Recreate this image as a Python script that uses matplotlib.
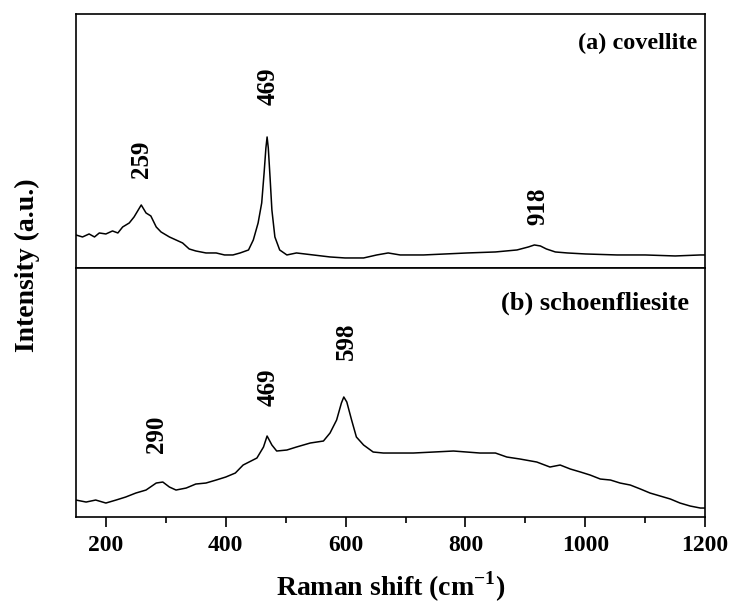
import matplotlib
matplotlib.use("Agg")
import matplotlib.pyplot as plt

plt.rcParams['font.family'] = ['Liberation Serif', 'DejaVu Serif']
plt.rcParams['font.weight'] = 'bold'
plt.rcParams['mathtext.fontset'] = 'custom'
plt.rcParams['mathtext.rm'] = 'Liberation Serif:bold'
plt.rcParams['mathtext.bf'] = 'Liberation Serif:bold'

# (a) covellite, intensidad en unidades arbitrarias
cov_x = [150, 161, 172, 181, 189, 200, 211, 220, 228, 239, 247, 253, 259, 261, 267, 275,
         284, 292, 306, 317, 328, 339, 350, 367, 384, 398, 412, 424, 438, 446, 454, 460,
         464, 467, 469, 471, 474, 477, 482, 490, 502, 518, 546, 574, 599, 630, 652, 671,
         691, 730, 803, 850, 886, 905, 915, 925, 935, 950, 970, 1000, 1053, 1100, 1150,
         1192, 1200]
cov_y = [33, 31, 34, 31, 35, 34, 37, 35, 41, 45, 51, 57, 63, 61, 55, 52,
         41, 36, 31, 28, 25, 19, 17, 15, 15, 13, 13, 15, 18, 28, 45, 65,
         95, 120, 131, 120, 90, 58, 31, 18, 13, 15, 13, 11, 10, 10, 13, 15,
         13, 13, 15, 16, 18, 21, 23, 22, 19, 16, 15, 14, 13, 13, 12,
         13, 13]

# (b) schoenfliesite
sch_x = [150, 167, 183, 200, 217, 233, 250, 267, 284, 295, 306, 317, 334, 350, 367, 384,
         400, 416, 429, 452, 463, 469, 477, 485, 502, 518, 541, 563, 574, 585, 593, 597,
         602, 610, 618, 630, 646, 663, 680, 713, 747, 780, 802, 824, 850, 869, 891, 919,
         941, 958, 975, 992, 1008, 1025, 1042, 1058, 1075, 1092, 1108, 1125, 1142, 1158,
         1175, 1192, 1200]
sch_y = [17, 15, 17, 14, 17, 20, 24, 27, 34, 35, 30, 27, 29, 33, 34, 37,
         40, 44, 52, 59, 70, 81, 72, 66, 67, 70, 74, 76, 84, 97, 114, 120,
         115, 97, 80, 72, 65, 64, 64, 64, 65, 66, 65, 64, 64, 60, 58, 55,
         50, 52, 48, 45, 42, 38, 37, 34, 32, 28, 24, 21, 18, 14,
         11, 9, 9]

picos_a = [(259, 109, '259'), (470, 182, '469'), (921, 62, '918')]
picos_b = [(285, 83, '290'), (470, 130, '469'), (601, 176, '598')]

fig = plt.figure(figsize=(7.3, 6.09), dpi=100)
ax1 = fig.add_axes([0.104, 0.560, 0.862, 0.417])
ax2 = fig.add_axes([0.104, 0.151, 0.862, 0.409])

ax1.plot(cov_x, cov_y, color='black', lw=1.1)
ax2.plot(sch_x, sch_y, color='black', lw=1.1)

for ax in (ax1, ax2):
    ax.set_xlim(150, 1200)
    ax.set_yticks([])
    for s in ax.spines.values():
        s.set_linewidth(1.2)

ax1.set_ylim(0, 254)
ax2.set_ylim(0, 249)
ax1.set_xticks([])

ax2.set_xticks([200, 400, 600, 800, 1000, 1200])
ax2.set_xticks([300, 500, 700, 900, 1100], minor=True)
ax2.tick_params(axis='x', which='major', direction='out', length=7, width=1.2, labelsize=17, pad=6)
ax2.tick_params(axis='x', which='minor', direction='out', length=4, width=1.2)

for x, y, t in picos_a:
    ax1.text(x, y, t, rotation=90, ha='center', va='center', fontsize=18, fontweight='bold')
for x, y, t in picos_b:
    ax2.text(x, y, t, rotation=90, ha='center', va='center', fontsize=18, fontweight='bold')

ax1.text(0.987, 0.886, '(a) covellite', transform=ax1.transAxes, ha='right', va='center',
         fontsize=17.5, fontweight='bold')
ax2.text(0.975, 0.859, '(b) schoenfliesite', transform=ax2.transAxes, ha='right', va='center',
         fontsize=19, fontweight='bold')

ax2.set_xlabel(r'Raman shift (cm$^{-1}$)', fontsize=20, fontweight='bold', labelpad=10)
fig.text(0.038, 0.565, 'Intensity (a.u.)', rotation=90, ha='center', va='center',
         fontsize=20, fontweight='bold')

fig.savefig('out.png', dpi=100)
